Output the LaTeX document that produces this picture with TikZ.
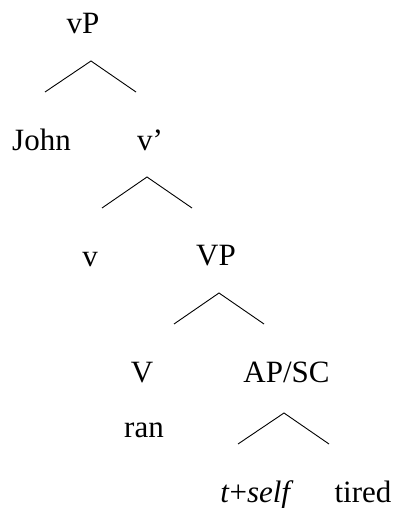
\documentclass[tikz,border=0pt]{standalone}
\usepackage{fontspec}
\setmainfont{Liberation Serif}
\begin{document}
\begin{tikzpicture}[x=1pt,y=-1pt,
  lbl/.style={anchor=base,inner sep=0pt,font=\fontsize{31}{36}\selectfont},
  br/.style={line width=0.9pt,line cap=butt}]
\useasboundingbox (0,0) rectangle (396,508);
% labels
\node[lbl] (vP) at (83,34) {vP};
\node[lbl] (John) at (41.5,150) {John};
\node[lbl] (vbar) at (150,150) {v’};
\node[lbl] (v) at (90,266) {v};
\node[lbl] (VP) at (216,265) {VP};
\node[lbl] (V) at (142,382) {V};
\node[lbl] (ran) at (144,437) {ran};
\node[lbl] (AP) at (286.5,382) {AP/SC};
\node[lbl] (tself) at (257,502) {\textit{t}+\textit{self}};
\node[lbl] (tired) at (363,502) {tired};
% branch points
\coordinate (a1) at (91,61);  \coordinate (l1) at (45,92);   \coordinate (r1) at (136,92);
\coordinate (a2) at (147,177); \coordinate (l2) at (102,208); \coordinate (r2) at (192,208);
\coordinate (a3) at (219,293); \coordinate (l3) at (174,324); \coordinate (r3) at (264,324);
\coordinate (a4) at (284,413); \coordinate (l4) at (238,444); \coordinate (r4) at (329,444);
\draw[br] (l1) -- (a1) -- (r1);
\draw[br] (l2) -- (a2) -- (r2);
\draw[br] (l3) -- (a3) -- (r3);
\draw[br] (l4) -- (a4) -- (r4);
\end{tikzpicture}
\end{document}
